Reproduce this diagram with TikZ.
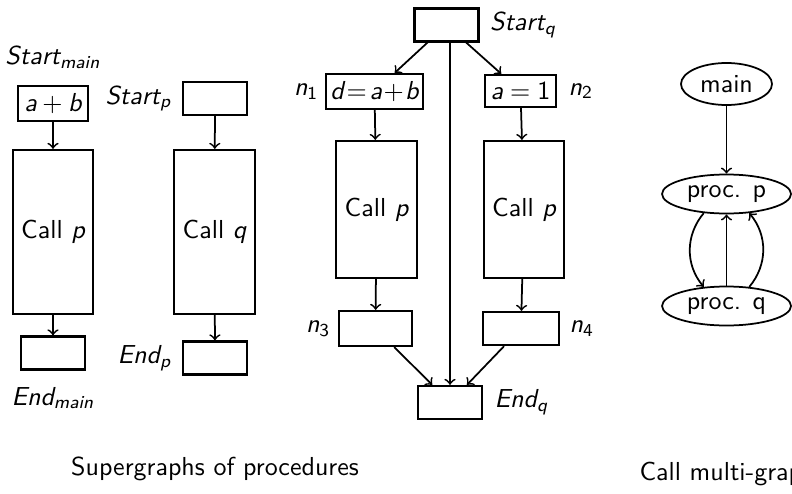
\documentclass[tikz,border=0pt]{standalone}
\usepackage{amsmath}
\usepackage{tikz}
\usetikzlibrary{positioning,shapes.geometric}
\renewcommand{\familydefault}{\sfdefault}
\SetSymbolFont{operators}{normal}{TU}{lmss}{m}{n}
\SetSymbolFont{letters}{normal}{TU}{lmss}{m}{sl}

\begin{document}
\begin{tikzpicture}[x=0.4pt, y=-0.4pt, font=\fontsize{10.4}{12.5}\selectfont,
		sqnode/.style={draw, line width=0.9pt, minimum width=25.6pt, minimum height=13.2pt, inner sep=1pt},
		callnode/.style={draw, line width=0.9pt, minimum width=30.4pt, minimum height=65.6pt},
		ovalnode/.style={ellipse, draw, line width=0.7pt, inner sep=0pt, minimum width=51.6pt, minimum height=15.6pt},
		lblnode/.style={inner sep=0pt},
		edge/.style={->, line width=0.7pt},
		]
		\useasboundingbox (0,0) rectangle (792,493);
		\clip (0,0) rectangle (792,493);
		%Nodes: main
		\node[sqnode, minimum width=28pt, minimum height=14pt] (ab) at (53,103.5) {$a+b$};
		\node[callnode]        (callm)  at (53,232)  {Call $p$};
		\node[sqnode]          (endm)   at (53,353)  {};
		\node[lblnode]         (lstartm) [above=6.4pt of ab]   {$Start_{main}$};
		\node[lblnode]         (lendm)   [below=6.4pt of endm] {$End_{main}$};
		%Nodes: p
		\node[sqnode]          (startp) at (215,98.5) {};
		\node[callnode]        (callq)  at (214.5,232) {Call $q$};
		\node[sqnode]          (endp)   at (215,358) {};
		\node[lblnode]         (lstartp) [left=4pt of startp] {$Start_p$};
		\node[lblnode]         (lendp)   [left=4pt of endp]   {$End_p$};
		%Nodes: q
		\node[sqnode]          (startq) at (446.5,25) {};
		\node[sqnode, minimum width=38.8pt, minimum height=14pt] (n1) at (374.5,91.5) {$d\!=\!a\!+\!b$};
		\node[sqnode, minimum width=28.4pt, minimum height=12.8pt] (n2) at (520.5,91) {$a=1$};
		\node[callnode, minimum height=54.8pt] (callpl) at (376.5,209.5) {Call $p$};
		\node[callnode, minimum height=54.8pt] (callpr) at (524,209.5)   {Call $p$};
		\node[sqnode, minimum width=29.2pt, minimum height=14pt] (n3) at (375.5,328.5) {};
		\node[sqnode, minimum width=30.4pt] (n4) at (521,328.5) {};
		\node[sqnode]          (endq)   at (450,402.5) {};
		\node[lblnode]         (lstartq) [right=4pt of startq] {$Start_q$};
		\node[lblnode]         (lendq)   [right=4.4pt of endq] {$End_q$};
		\node[lblnode]         (ln1)     [left=2.4pt of n1]  {$n_1$};
		\node[lblnode]         (ln2)     [right=4.4pt of n2] {$n_2$};
		\node[lblnode]         (ln3)     [left=2.8pt of n3]  {$n_3$};
		\node[lblnode]         (ln4)     [right=3.6pt of n4] {$n_4$};
		%Nodes: call graph
		\node[ovalnode, minimum width=36.4pt, minimum height=16.8pt] (mainn) at (726.5,84) {main};
		\node[ovalnode]        (pp)     at (726.5,194) {proc. p};
		\node[ovalnode]        (pq)     at (726.5,306) {proc. q};
		%Captions
		\node[lblnode, anchor=base] (capsg) at (215,475) {Supergraphs of procedures};
		\node[lblnode, anchor=base west] (capcg) at (639,480) {Call multi-graph};

		%Lines
		\draw[edge] (ab) -- (callm);
		\draw[edge] (callm) -- (endm);
		\draw[edge] (startp) -- (callq);
		\draw[edge] (callq) -- (endp);
		\draw[edge] (startq) -- (n1);
		\draw[edge] (startq) -- (n2);
		\draw[edge] (startq.south -| endq.north) -- (endq.north);
		\draw[edge] (n1) -- (callpl);
		\draw[edge] (n2) -- (callpr);
		\draw[edge] (callpl) -- (n3);
		\draw[edge] (callpr) -- (n4);
		\draw[edge] (n3) -- (endq);
		\draw[edge] (n4) -- (endq);
		\draw[edge] (mainn) -- (pp);
		\draw[edge] (pq) -- (pp);
		\draw[edge] (pp.220) to[bend right=40] (pq.140);
		\draw[edge] (pq.40) to[bend right=40] (pp.320);
	\end{tikzpicture}
\end{document}
